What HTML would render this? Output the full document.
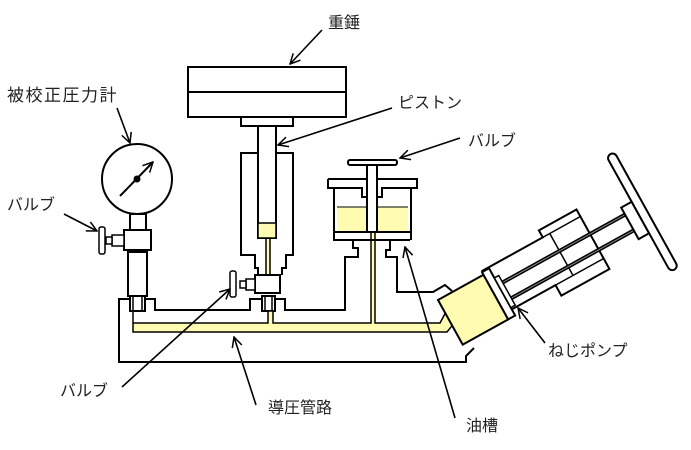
<!DOCTYPE html>
<html><head><meta charset="utf-8"><style>
html,body{margin:0;padding:0;background:#fff;}
svg{display:block;}
text{font-family:"Liberation Sans","Noto Sans CJK JP",sans-serif;font-size:16px;fill:#222;}
</style></head><body>
<svg width="691" height="450" viewBox="0 0 691 450" xmlns="http://www.w3.org/2000/svg">
<defs>
<marker id="ah" viewBox="0 0 12 12" refX="11" refY="6" markerWidth="12" markerHeight="12" markerUnits="userSpaceOnUse" orient="auto">
<path d="M1,1 L11,6 L1,11" fill="none" stroke="#000" stroke-width="1.5"/>
</marker>
</defs>
<g fill="none" stroke="#000" stroke-width="2" stroke-linejoin="miter">
<!-- weight -->
<rect x="188" y="67" width="158" height="50" fill="#fff"/>
<line x1="188" y1="92" x2="346" y2="92"/>
<rect x="241" y="117" width="52" height="9" fill="#fff"/>
<!-- piston housing -->
<path d="M258,153 H241 V255 H255 V268 H258 V275 M276,153 H293 V255 H286 V268 H282 V275" />
<rect x="266" y="238" width="4" height="38" fill="#fffbb0" stroke-width="1.5"/>
<rect x="258" y="126" width="18" height="112" fill="#fff"/>
<rect x="258" y="223" width="18" height="15" fill="#fffbb0" stroke-width="1.5"/>
<!-- piston valve -->
<rect x="255" y="275" width="25" height="18" fill="#fff"/>
<rect x="246" y="279" width="9" height="11" fill="#fff" stroke-width="1.5"/>
<rect x="240" y="281" width="6" height="7" fill="#fff" stroke-width="1.5"/>
<rect x="230" y="271" width="6" height="26" rx="2" fill="#fff" stroke-width="1.5"/>
<rect x="262" y="296" width="13" height="15" fill="#fff"/>
<line x1="265" y1="296" x2="265" y2="311" stroke-width="1.5"/><line x1="272" y1="296" x2="272" y2="311" stroke-width="1.5"/>
<!-- gauge -->
<circle cx="137" cy="179" r="35" fill="#fff"/>
<line x1="120" y1="196" x2="153" y2="162" marker-end="url(#ah)"/>
<circle cx="137" cy="179" r="2.5" fill="#000"/>
<rect x="130" y="214" width="16" height="16" fill="#fff"/>
<rect x="124" y="230" width="27" height="20" fill="#fff"/>
<rect x="112" y="235" width="12" height="11" fill="#fff" stroke-width="1.5"/>
<rect x="106" y="237" width="6" height="7" fill="#fff" stroke-width="1.5"/>
<rect x="99" y="227" width="6" height="27" rx="2" fill="#fff" stroke-width="1.5"/>
<rect x="128" y="252" width="19" height="44" fill="#fff"/>
<rect x="130" y="296" width="15" height="15" fill="#fff"/>
<line x1="133" y1="296" x2="133" y2="311" stroke-width="1.5"/><line x1="142" y1="296" x2="142" y2="311" stroke-width="1.5"/>
<!-- base -->
<path d="M130,299 H119 V362 H466 V356 L474,348"/>
<path d="M145,299 H155 V310 H250 V299 H262 M275,299 H285 V310 H345 V257 H358 V248 H353 V240 H333"/>
<path d="M410,240 H390 V250 H386 V257 H397 V292 H433 L445,285 L452,291"/>
<!-- pipes -->
<path d="M133,311 V323 H268 V311 H273 V323 H371 V232 H375 V323 H440 L447,310 L455,322 L447,332 H133 Z" fill="#fffbb0" stroke-width="1.5"/>
<!-- oil tank -->
<path d="M328,179 H417 V188 H411 V240 M328,179 V188 H334 V240 H410" fill="none"/>
<path d="M334,188 H362 V197 H368 M411,188 H382 V197 H377"/>
<rect x="337" y="207" width="71" height="25" fill="#fffbb0" stroke="none"/>
<line x1="337" y1="207" x2="408" y2="207" stroke-width="1"/>
<line x1="334" y1="232" x2="411" y2="232" stroke-width="2"/>
<rect x="367" y="165" width="10" height="67" fill="#fff"/>
<rect x="348" y="160" width="49" height="5" rx="2" fill="#fff"/>
<!-- pump (rotated frame) -->
<g transform="translate(438,300) rotate(-29)">
<path d="M52,-4 H122 V-12 H165 V56 H110 V44 H60" fill="#fff"/>
<path d="M130,-4 V44 M122,-4 H165 M110,44 H165" stroke-width="1.5"/>
<line x1="60" y1="16" x2="207" y2="16" stroke-width="4"/>
<line x1="60" y1="34" x2="207" y2="34" stroke-width="4"/>
<line x1="60" y1="16" x2="207" y2="16" stroke="#888" stroke-width="1"/>
<line x1="60" y1="34" x2="207" y2="34" stroke="#888" stroke-width="1"/>
<rect x="0" y="0" width="52" height="51" fill="#fffbb0"/>
<rect x="52" y="-3" width="8" height="54" fill="#fff"/>
<rect x="60" y="8" width="5" height="34" fill="#fff" stroke-width="1.5"/>
<rect x="205" y="8" width="12" height="36" fill="#fff"/>
<rect x="217" y="-44" width="9" height="132" rx="4.5" fill="#fff"/>
</g>
</g>
<!-- leader arrows -->
<g stroke="#000" stroke-width="1.6" fill="none" marker-end="url(#ah)">
<line x1="322" y1="30" x2="290" y2="64"/>
<line x1="392" y1="108" x2="278" y2="145"/>
<line x1="460" y1="138" x2="400" y2="158"/>
<line x1="117" y1="108" x2="130" y2="143"/>
<line x1="64" y1="214" x2="97" y2="231"/>
<line x1="122" y1="387" x2="230" y2="289"/>
<line x1="256" y1="405" x2="234" y2="337"/>
<line x1="455" y1="418" x2="405" y2="247"/>
<line x1="545" y1="343" x2="518" y2="308"/>
</g>
<text x="328" y="28">重錘</text>
<text x="398" y="108">ピストン</text>
<text x="468" y="146">バルブ</text>
<text x="7" y="101" style="font-size:17px;letter-spacing:1.5px">被校正圧力計</text>
<text x="7" y="210">バルブ</text>
<text x="60" y="396">バルブ</text>
<text x="268" y="413">導圧管路</text>
<text x="466" y="431">油槽</text>
<text x="548" y="356">ねじポンプ</text>
</svg>
</body></html>
